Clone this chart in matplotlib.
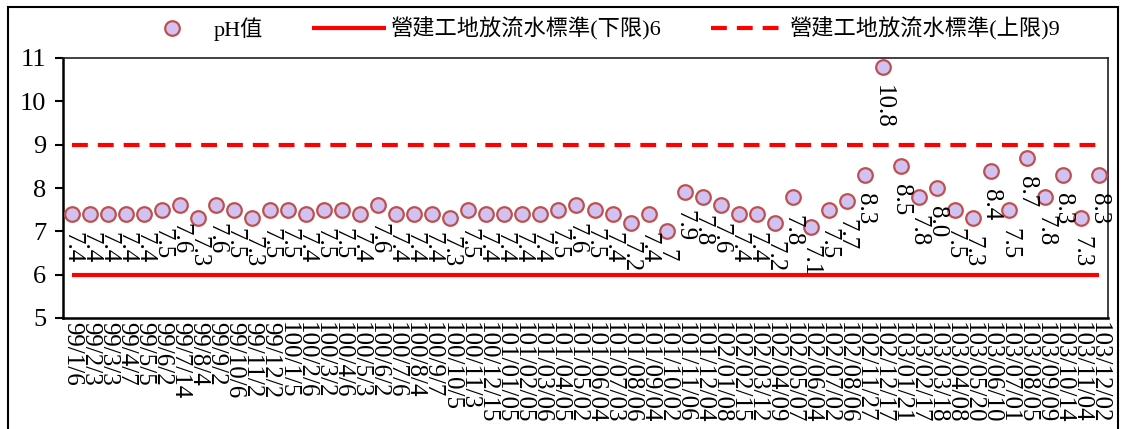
import matplotlib
matplotlib.use("Agg")
import matplotlib.pyplot as plt
from matplotlib.patches import Rectangle

# serif digits, CJK fallback for the legend text
plt.rcParams['font.family'] = ['Liberation Serif', 'Noto Sans CJK TC', 'DejaVu Sans']

dates = ["99/1/6", "99/2/3", "99/3/3", "99/4/7", "99/5/5", "99/6/2", "99/7/14", "99/8/4",
         "99/9/2", "99/10/6", "99/11/2", "99/12/2",
         "100/1/5", "100/2/6", "100/3/2", "100/4/6", "100/5/3", "100/6/2", "100/7/6", "100/8/4",
         "100/9/7", "100/10/5", "100/11/3", "100/12/15",
         "101/01/05", "101/02/05", "101/03/06", "101/04/05", "101/05/02", "101/06/04",
         "101/07/03", "101/08/06", "101/09/04", "101/10/02", "101/11/06", "101/12/04",
         "102/01/08", "102/02/15", "102/03/12", "102/04/09", "102/05/07", "102/06/04",
         "102/07/02", "102/08/06", "102/11/27", "102/12/17",
         "103/01/21", "103/02/17", "103/03/18", "103/04/08", "103/05/20", "103/06/10",
         "103/07/01", "103/08/05", "103/09/09", "103/10/14", "103/11/04", "103/12/02"]

# pH readings as printed on the chart
ph_text = ["7.4", "7.4", "7.4", "7.4", "7.4", "7.5", "7.6", "7.3", "7.6", "7.5", "7.3", "7.5",
           "7.5", "7.4", "7.5", "7.5", "7.4", "7.6", "7.4", "7.4", "7.4", "7.3", "7.5", "7.4",
           "7.4", "7.4", "7.4", "7.5", "7.6", "7.5", "7.4", "7.2", "7.4", "7", "7.9", "7.8",
           "7.6", "7.4", "7.4", "7.2", "7.8", "7.1", "7.5", "7.7", "8.3", "10.8",
           "8.5", "7.8", "8.0", "7.5", "7.3", "8.4", "7.5", "8.7", "7.8", "8.3", "7.3", "8.3"]
ph = [float(s) for s in ph_text]

low_limit = 6
high_limit = 9
low_label = "營建工地放流水標準(下限)6"
high_label = "營建工地放流水標準(上限)9"

W, H = 1126, 429
fig = plt.figure(figsize=(W / 100, H / 100), dpi=100)
ax = fig.add_axes([63 / W, 1 - 318 / H, (1108 - 63) / W, (318 - 58) / H])

x = list(range(len(dates)))
l_low, = ax.plot(x, [low_limit] * len(x), color='#ff0000', lw=3, solid_capstyle='butt',
                 label=low_label, zorder=2)
l_high, = ax.plot(x, [high_limit] * len(x), color='#ff0000', lw=3, dashes=(3.8, 2.4),
                  label=high_label, zorder=2)
l_ph, = ax.plot(x, ph, ls='none', marker='o', ms=10.5, mfc='#d2c2f2', mec='#c0504d',
                mew=1.6, label='pH值', zorder=3)

for xi, v, t in zip(x, ph, ph_text):
    ax.annotate(t, (xi, v), xytext=(0, -13), textcoords='offset points',
                rotation=270, ha='center', va='top', fontsize=18, zorder=4)

ax.set_xlim(-0.5, len(x) - 0.5)
ax.set_ylim(5, 11)
ax.set_yticks(range(5, 12))
ax.set_xticks(x)
ax.set_xticklabels(dates, rotation=270, fontsize=18)
ax.tick_params(axis='x', length=0, pad=3)
ax.tick_params(axis='y', direction='out', length=6, width=1.5, labelsize=19, pad=6)

for side in ['left', 'bottom']:
    ax.spines[side].set_linewidth(1.8)
    ax.spines[side].set_color('black')
for side in ['top', 'right']:
    ax.spines[side].set_linewidth(1.2)
    ax.spines[side].set_color('#202020')

fig.legend([l_ph, l_low, l_high], ['pH值', low_label, high_label],
           loc='center', bbox_to_anchor=(0.531, 1 - 29 / H), ncol=3, frameon=False,
           fontsize=16, handlelength=3.3, handletextpad=0.25, columnspacing=2.2)

# outer chart border
fig.patches.append(Rectangle((8 / W, -0.05), (1118 - 8) / W, 1.05 - 7 / H,
                             transform=fig.transFigure, fill=False, ec='black', lw=1.5))

fig.savefig('out.png', dpi=100)
